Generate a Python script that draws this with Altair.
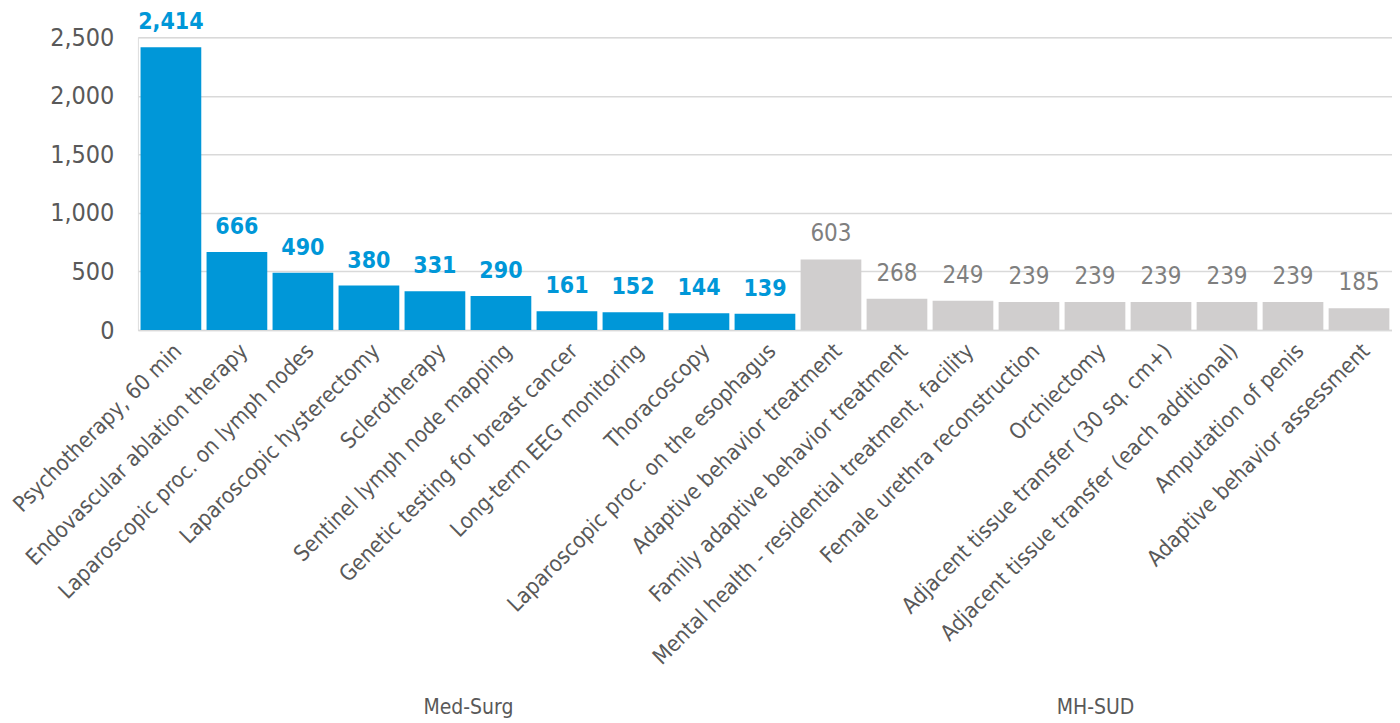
import altair as alt
import pandas as pd

categories = [
    "Psychotherapy, 60 min",
    "Endovascular ablation therapy",
    "Laparoscopic proc. on lymph nodes",
    "Laparoscopic hysterectomy",
    "Sclerotherapy",
    "Sentinel lymph node mapping",
    "Genetic testing for breast cancer",
    "Long-term EEG monitoring",
    "Thoracoscopy",
    "Laparoscopic proc. on the esophagus",
    "Adaptive behavior treatment",
    "Family adaptive behavior treatment",
    "Mental health - residential treatment, facility",
    "Female urethra reconstruction",
    "Orchiectomy",
    "Adjacent tissue transfer (30 sq. cm+)",
    "Adjacent tissue transfer (each additional)",
    "Amputation of penis",
    "Adaptive behavior assessment",
]
values = [2414, 666, 490, 380, 331, 290, 161, 152, 144, 139,
          603, 268, 249, 239, 239, 239, 239, 239, 185]
groups = ["Med-Surg"] * 10 + ["MH-SUD"] * 9
group_names = ["Med-Surg", "MH-SUD"]
y_ticks = [0, 500, 1000, 1500, 2000, 2500]

df = pd.DataFrame({"category": categories, "value": values, "group": groups})

# group centres, derived from the group sizes (in units of bars)
counts = [groups.count(g) for g in group_names]
centres = []
start = 0
for c in counts:
    centres.append(start + c / 2)
    start += c
gdf = pd.DataFrame({"group": group_names, "centre": centres})

FONT = "DejaVu Sans Condensed, DejaVu Sans, sans-serif"
BLUE = "#0097D8"
GREY_BAR = "#D0CECE"
GREY_TXT = "#7F7F7F"
AXIS_TXT = "#595959"

is_ms = alt.datum.group == "Med-Surg"

x_axis = alt.Axis(labelAngle=-45, labelFontSize=22, labelColor=AXIS_TXT,
                  labelLimit=600, ticks=False, domainColor="#D9D9D9",
                  domainWidth=1.5, labelPadding=10, labelFont=FONT)
y_axis = alt.Axis(values=y_ticks, format=",d",
                  labelFontSize=25, labelColor=AXIS_TXT, labelFont=FONT,
                  ticks=False, domain=False, gridColor="#D9D9D9",
                  gridWidth=1.5, labelPadding=24, minExtent=129)

x_enc = alt.X("category:N", sort=categories, title=None,
              scale=alt.Scale(paddingInner=0.08, paddingOuter=0.04), axis=x_axis)
y_enc = alt.Y("value:Q", title=None, scale=alt.Scale(domain=[0, 2500]), axis=y_axis)

bars = alt.Chart(df).mark_bar().encode(
    x=x_enc, y=y_enc,
    color=alt.condition(is_ms, alt.value(BLUE), alt.value(GREY_BAR)),
)

text_ms = alt.Chart(df).mark_text(dy=-13, baseline="bottom", fontSize=23, fontWeight="bold",
                                  color=BLUE, font=FONT).encode(
    x=x_enc, y=y_enc,
    text=alt.Text("value:Q", format=","),
).transform_filter(is_ms)

text_mh = alt.Chart(df).mark_text(dy=-13, baseline="bottom", fontSize=24,
                                  color=GREY_TXT, font=FONT).encode(
    x=x_enc, y=y_enc,
    text=alt.Text("value:Q", format=","),
).transform_filter(alt.datum.group == "MH-SUD")

group_layer = alt.Chart(gdf).mark_text(opacity=0).encode(
    x=alt.X("centre:Q", title=None,
            scale=alt.Scale(domain=[0, len(categories)], nice=False, zero=False),
            axis=alt.Axis(orient="bottom", values=centres,
                          labelExpr="datum.value < " + str(counts[0]) + " ? '" + group_names[0] + "' : '" + group_names[1] + "'",
                          labelFontSize=21, labelColor=AXIS_TXT, labelFont=FONT,
                          ticks=False, domain=False, grid=False, labelPadding=0,
                          offset=367, labelFlush=False)),
    text="group:N",
)

main = alt.layer(bars, text_ms, text_mh)

chart = alt.layer(main, group_layer).resolve_scale(
    x="independent"
).properties(
    width=1255, height=293,
    padding={"left": 0, "top": 3, "right": 0, "bottom": 0},
).configure_view(stroke=None).configure(font=FONT, background="white")

chart.save("out.html", embed_options={"renderer": "svg", "actions": False})
